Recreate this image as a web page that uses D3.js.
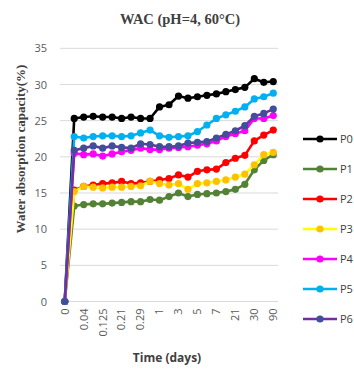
<!DOCTYPE html>
<html><head><meta charset="utf-8">
<script src="https://cdn.jsdelivr.net/npm/d3@7"></script>
<style>
html,body{margin:0;padding:0;background:#fff;}
svg{display:block;}
</style>
</head><body>
<script>
// ---- data ----
const categories = ["0","0.02","0.04","0.083","0.125","0.167","0.21","0.25","0.29","0.33","1","2","3","4","5","6","7","14","21","28","30","60","90"];
const shownLabels = ["0","0.04","0.125","0.21","0.29","1","3","5","7","21","30","90"];
const yTicks = [0,5,10,15,20,25,30,35];
const seriesNames = ["P0","P1","P2","P3","P4","P5","P6"];
const P0 = [0,25.3,25.5,25.6,25.5,25.5,25.3,25.5,25.3,25.3,26.9,27.2,28.4,28.1,28.3,28.5,28.7,29.0,29.3,29.6,30.8,30.3,30.4];
const P1 = [0,13.2,13.4,13.5,13.5,13.6,13.7,13.8,13.8,14.1,14.0,14.5,15.0,14.5,14.8,14.9,15.0,15.2,15.5,16.2,18.2,19.5,20.3];
const P2 = [0,15.4,15.9,16.1,16.3,16.4,16.6,16.3,16.4,16.6,16.8,17.0,17.5,17.2,18.0,18.2,18.3,19.2,19.8,20.2,22.2,23.0,23.7];
const P3 = [0,15.2,15.9,15.8,15.7,15.8,15.8,15.9,16.0,16.6,16.3,16.1,16.3,15.5,16.3,16.4,16.6,16.8,17.2,17.6,18.9,20.3,20.6];
const P4 = [0,20.5,20.3,20.4,20.1,20.4,20.7,20.9,21.2,21.0,21.0,21.2,21.3,21.4,21.6,21.8,22.2,22.8,23.2,23.6,25.3,25.3,25.7];
const P5 = [0,22.8,22.6,22.8,22.9,22.9,22.8,22.9,23.3,23.7,22.9,22.7,22.8,22.9,23.5,24.4,25.3,25.8,26.3,26.9,28.0,28.3,28.8];
const P6 = [0,20.9,21.2,21.5,21.2,21.5,21.3,21.2,21.8,21.7,21.4,21.4,21.5,21.9,22.0,22.1,22.6,23.1,23.6,24.3,25.6,26.0,26.6];
const lineColors = ["#000000","#548235","#ff0000","#ffff00","#ff00ff","#00b0f0","#7030a0"];
const markerColors = ["#000000","#548235","#ff0000","#ffc000","#ff00ff","#00b0f0","#3f4f9a"];
const seriesValues = [P0,P1,P2,P3,P4,P5,P6];

// ---- layout ----
const W = 354, H = 371;
const plot = {left:60, right:278, top:48.3, bottom:301.5};

const svg = d3.select("body").append("svg").attr("width",W).attr("height",H);

const x = d3.scaleBand().domain(categories).range([plot.left, plot.right]);
const y = d3.scaleLinear().domain([0,35]).range([plot.bottom, plot.top]);
const cx = c => x(c) + x.bandwidth()/2;

// gridlines
svg.append("g").selectAll("line").data(yTicks).join("line")
  .attr("x1",plot.left).attr("x2",plot.right)
  .attr("y1",d=>y(d)).attr("y2",d=>y(d))
  .attr("stroke","#d9d9d9").attr("stroke-width",1);

// y axis labels
const yAxis = d3.axisLeft(y).tickValues(yTicks).tickSize(0).tickPadding(0);
const gy = svg.append("g").attr("transform",`translate(47,0)`).call(yAxis);
gy.select(".domain").remove();
gy.selectAll("text").attr("font-family","'Open Sans', sans-serif").attr("font-size","11px").attr("fill","#595959");

// x axis labels
const xAxis = d3.axisBottom(x).tickValues(shownLabels).tickSize(0).tickPadding(0);
const gx = svg.append("g").attr("transform",`translate(0,${plot.bottom})`).call(xAxis);
gx.select(".domain").remove();
gx.selectAll("text")
  .attr("font-family","'Open Sans', sans-serif").attr("font-size","11px").attr("fill","#595959")
  .attr("text-anchor","end").attr("dy","0.35em")
  .attr("transform","translate(0,7) rotate(-90)").attr("x",0).attr("y",0);

// series
const line = d3.line().x((d,i)=>cx(categories[i])).y(d=>y(d));
seriesValues.forEach((vals,k)=>{
  const g = svg.append("g");
  g.append("path").datum(vals).attr("d",line).attr("fill","none")
    .attr("stroke",lineColors[k]).attr("stroke-width",2.6).attr("stroke-linejoin","round");
  g.selectAll("circle").data(vals).join("circle")
    .attr("cx",(d,i)=>cx(categories[i])).attr("cy",d=>y(d)).attr("r",3.6)
    .attr("fill",markerColors[k]);
});

// legend
const lg = svg.append("g");
seriesNames.forEach((n,k)=>{
  const ly = 139 + k*30;
  lg.append("line").attr("x1",303).attr("x2",337).attr("y1",ly).attr("y2",ly)
    .attr("stroke",lineColors[k]).attr("stroke-width",2.6);
  lg.append("circle").attr("cx",320).attr("cy",ly).attr("r",3.6).attr("fill",markerColors[k]);
  lg.append("text").attr("x",340).attr("y",ly).attr("dy","0.35em")
    .attr("font-family","'Open Sans', sans-serif").attr("font-size","11px").attr("fill","#404040").text(n);
});

// titles
svg.append("text").attr("x",180).attr("y",24).attr("text-anchor","middle")
  .attr("font-family","'Liberation Serif', serif").attr("font-weight","bold").attr("font-size","14.5px")
  .attr("fill","#404040").text("WAC (pH=4, 60°C)");
svg.append("text").attr("transform","translate(20,149) rotate(-90)").attr("text-anchor","middle")
  .attr("dy","0.35em")
  .attr("font-family","'Liberation Serif', serif").attr("font-weight","bold").attr("font-size","13px")
  .attr("fill","#404040").text("Water absorption capacity(%)");
svg.append("text").attr("x",167).attr("y",362).attr("text-anchor","middle")
  .attr("font-family","'Open Sans', sans-serif").attr("font-weight","bold").attr("font-size","12px")
  .attr("fill","#404040").text("Time (days)");
</script>
</body></html>
